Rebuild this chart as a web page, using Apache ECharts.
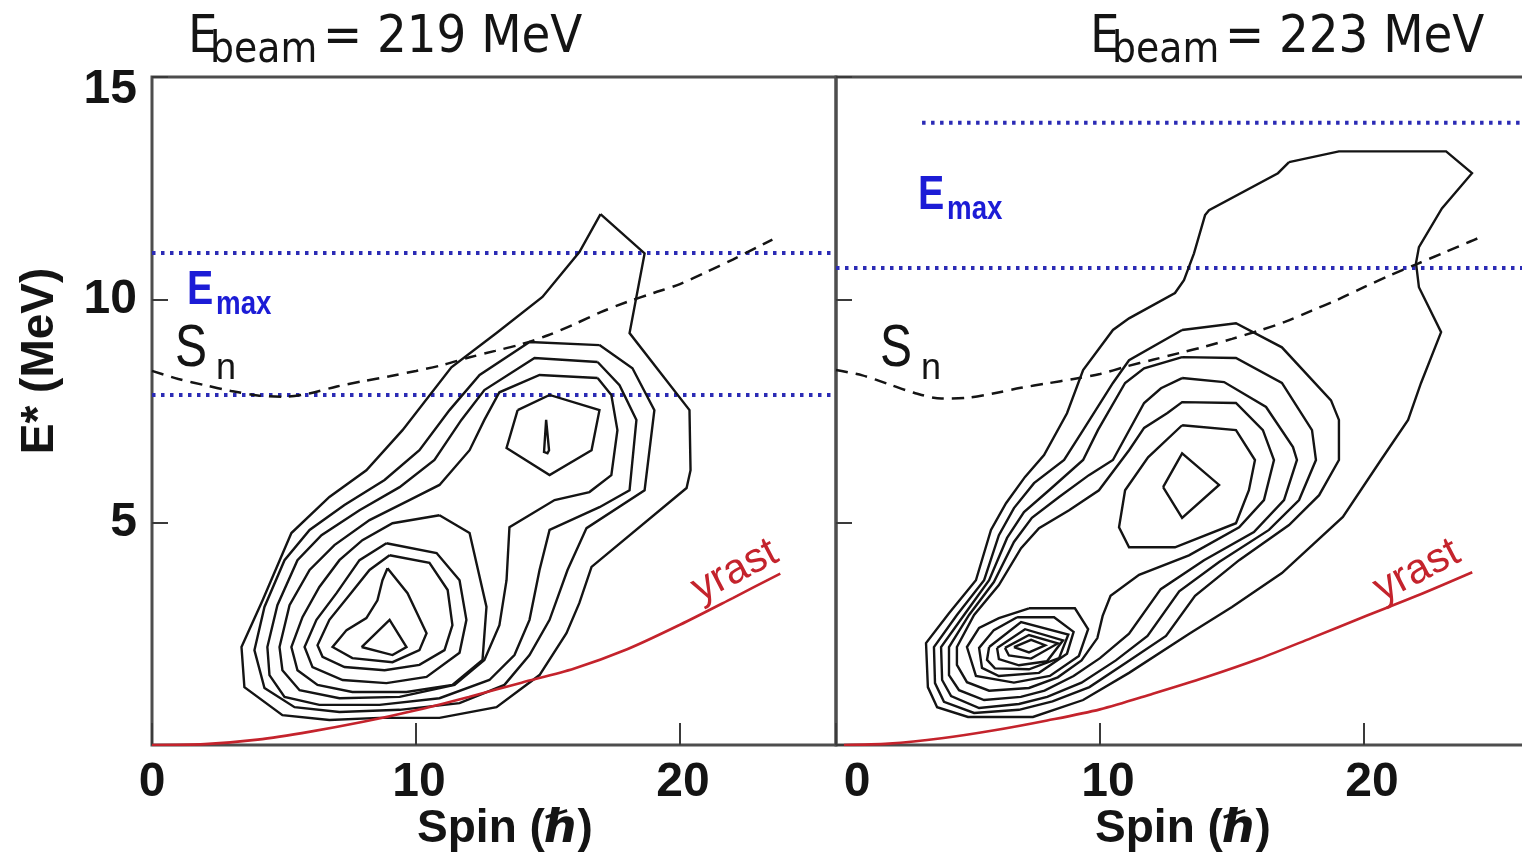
<!DOCTYPE html>
<html>
<head>
<meta charset="utf-8">
<script src="https://cdn.jsdelivr.net/npm/echarts@6/dist/echarts.min.js"></script>
<style>
  html, body { margin: 0; padding: 0; background: #ffffff; }
  #chart { width: 1522px; height: 853px; }
</style>
</head>
<body>
<div id="chart"></div>
<script>
// ---------------- data ----------------
const spinTicks = [0, 10, 20];
const energyTicks = [0, 5, 10, 15];
const beamLabels = ['219', '223'];

// axis ranges (spin in hbar, excitation energy in MeV)
const spinRange219 = [0, 25.91];
const spinRange223 = [0, 26.06];
const energyRange = [0, 15];

// yrast lines
const yrast219 = [[0,0],[2,0.02],[4,0.12],[6,0.3],[8,0.52],[10,0.78],[12,1.08],[14,1.4],[16,1.72],[18,2.15],[20,2.7],[22,3.3],[23.8,3.85]];
const yrast223 = [[0.3,0],[2,0.03],[4,0.15],[6,0.33],[8,0.55],[10,0.8],[12,1.15],[14,1.52],[16,1.93],[18,2.4],[20,2.88],[22,3.35],[24.1,3.88]];

// neutron separation energy S_n
const sn219 = [[0,8.4],[1,8.22],[2,8.08],[3,7.95],[4,7.85],[5,7.82],[6,7.9],[7,8.05],[8,8.17],[9,8.28],[10,8.4],[11,8.53],[12,8.7],[13,8.85],[14,9.0],[15,9.2],[16,9.45],[17,9.72],[18,9.95],[19,10.15],[20,10.35],[21,10.62],[22,10.9],[23,11.2],[23.5,11.35]];
const sn223 = [[0,8.42],[1,8.3],[2,8.1],[3,7.9],[4,7.78],[5,7.8],[6,7.9],[7,8.02],[8,8.12],[9,8.22],[10,8.33],[11,8.5],[12,8.65],[13,8.8],[14,8.95],[15,9.12],[16,9.3],[17,9.5],[18,9.75],[19,10.0],[20,10.28],[21,10.55],[22,10.8],[23,11.05],[24,11.3],[24.4,11.4]];

// E_max levels and where each dotted line begins (spin)
const emaxLevels219 = [11.05, 7.86];
const emaxStart219 = [0, 0];
const emaxLevels223 = [13.97, 10.71];
const emaxStart223 = [3.26, 0];

// contour lines, E_beam = 219 MeV
const c219_1 = [[16.99,11.92],[18.66,11.04],[18.09,9.25],[20.36,7.52],[20.40,6.17],[20.25,5.77],[16.65,4.00],[16.19,3.19],[15.70,2.51],[14.68,1.57],[13.05,0.85],[10.89,0.61],[8.62,0.61],[6.72,0.56],[4.94,0.67],[3.50,1.30],[3.39,2.20],[4.19,3.25],[5.28,4.76],[6.72,5.57],[8.12,6.17],[9.49,7.07],[11.34,8.48],[13.05,9.25],[14.79,10.06],[16.19,11.07],[16.99,11.92]];
const c219_2 = [[16.95,8.98],[18.20,8.46],[19.03,7.52],[18.66,5.72],[16.46,4.87],[15.74,3.93],[15.06,2.81],[14.30,2.02],[13.35,1.35],[11.65,0.94],[9.38,0.79],[7.10,0.74],[5.40,0.85],[4.26,1.28],[3.88,2.13],[4.26,3.10],[5.02,4.15],[5.97,4.83],[7.29,5.39],[8.81,5.95],[10.13,6.62],[11.27,7.52],[12.41,8.31],[14.30,9.05],[16.95,8.98]];
const c219_3 = [[16.88,8.60],[17.71,8.08],[18.35,7.30],[18.09,5.72],[16.95,5.34],[15.06,4.83],[14.68,3.93],[14.30,2.81],[13.73,2.02],[12.78,1.46],[10.89,1.05],[8.62,0.90],[6.34,0.90],[5.02,1.08],[4.45,1.57],[4.37,2.20],[4.75,3.14],[5.51,4.15],[6.42,4.71],[7.86,5.27],[9.38,5.79],[10.70,6.40],[11.72,7.30],[12.59,7.97],[14.49,8.69],[16.88,8.60]];
const c219_4 = [[16.88,8.24],[17.40,7.86],[17.63,7.07],[17.40,6.06],[16.57,5.68],[15.25,5.50],[13.54,4.89],[13.43,3.70],[13.16,2.69],[12.59,1.91],[11.46,1.35],[9.38,1.08],[7.10,1.05],[5.59,1.23],[4.94,1.68],[4.83,2.20],[5.21,3.14],[5.97,3.93],[6.91,4.49],[8.24,5.05],[9.75,5.50],[10.89,5.84],[12.03,6.62],[12.59,7.30],[13.16,7.92],[14.68,8.31],[16.88,8.24]];
const c219_5a = [[13.85,7.52],[15.06,7.86],[16.95,7.52],[16.65,6.62],[15.06,6.06],[13.43,6.67],[13.85,7.52]];
const c219_5b = [[10.89,5.16],[12.03,4.76],[12.67,3.10],[12.52,1.91],[11.38,1.35],[9.64,1.19],[7.59,1.19],[6.27,1.35],[5.51,1.68],[5.28,2.20],[5.70,2.87],[6.34,3.55],[7.10,4.15],[7.97,4.60],[9.11,4.98],[10.89,5.16]];
const c219_6a = [[14.93,7.30],[15.04,6.62],[14.98,6.55],[14.85,6.58],[14.93,7.30]];
const c219_6b = [[8.88,4.53],[10.78,4.31],[11.65,3.70],[11.91,2.81],[11.65,2.07],[10.40,1.53],[8.88,1.39],[7.22,1.46],[6.08,1.75],[5.78,2.20],[6.23,2.81],[6.99,3.41],[7.86,4.15],[8.88,4.53]];
const c219_7 = [[9.0,4.26],[10.51,4.09],[11.2,3.48],[11.38,2.69],[11.08,2.13],[10.13,1.80],[8.81,1.68],[7.29,1.75],[6.46,1.98],[6.27,2.24],[6.72,2.81],[7.48,3.37],[8.24,3.93],[9.0,4.26]];
const c219_8 = [[8.92,3.97],[9.68,3.41],[10.40,2.51],[10.13,2.13],[9.11,1.86],[7.59,1.95],[6.84,2.20],[7.37,2.58],[8.12,2.85],[8.54,3.25],[8.73,3.70],[8.92,3.97]];
const c219_9 = [[7.94,2.20],[9.0,2.81],[9.64,2.20],[9.11,2.02],[7.94,2.20]];

// contour lines, E_beam = 223 MeV
const c223_1 = [[17.16,13.09],[19.05,13.33],[23.11,13.33],[24.09,12.84],[22.95,12.05],[22.08,11.18],[21.97,10.82],[22.08,10.28],[22.92,9.27],[22.16,8.13],[21.67,7.30],[20.64,6.40],[19.20,5.12],[16.89,3.86],[15.0,3.10],[13.41,2.51],[11.10,1.62],[9.36,1.01],[7.46,0.63],[5.0,0.63],[3.83,0.85],[3.48,1.30],[3.41,2.29],[4.28,2.96],[5.30,3.70],[5.87,4.83],[6.44,5.43],[7.16,6.02],[7.88,6.51],[8.75,7.45],[9.36,8.42],[10.49,9.32],[11.10,9.58],[12.84,10.15],[13.18,10.44],[13.56,11.04],[13.98,11.90],[14.13,12.01],[16.74,12.84],[17.16,13.09]];
const c223_2 = [[13.11,9.32],[15.15,9.47],[16.89,8.93],[18.75,7.74],[19.05,7.30],[19.05,6.40],[18.30,5.61],[17.16,4.94],[15.27,4.15],[13.6,3.35],[12.5,2.45],[11.0,1.85],[9.6,1.3],[8.2,0.98],[6.93,0.79],[5.23,0.72],[4.09,0.97],[3.75,1.39],[3.71,2.20],[4.58,2.92],[5.61,3.70],[6.17,4.71],[6.74,5.32],[7.50,5.88],[8.64,6.40],[9.36,7.07],[10.49,8.13],[11.10,8.64],[13.11,9.32]];
const c223_3 = [[13.11,8.71],[15.15,8.69],[16.89,8.13],[18.03,7.07],[18.18,6.40],[17.54,5.50],[16.40,4.83],[14.51,4.11],[13.0,3.45],[11.8,2.45],[10.6,1.9],[9.3,1.4],[8.0,1.08],[6.93,0.92],[5.42,0.83],[4.36,1.10],[4.02,1.46],[3.98,2.20],[4.85,2.92],[5.80,3.70],[6.48,4.65],[7.12,5.23],[8.07,5.72],[9.36,6.40],[9.92,7.07],[10.95,8.13],[11.67,8.46],[13.11,8.71]];
const c223_4 = [[13.11,8.24],[14.70,8.15],[16.29,7.59],[17.31,6.69],[17.46,6.40],[16.97,5.50],[15.83,4.78],[13.94,4.15],[12.3,3.5],[11.1,2.5],[10.0,1.95],[9.0,1.55],[7.9,1.22],[7.0,1.08],[5.61,1.01],[4.66,1.23],[4.28,1.57],[4.28,2.20],[5.04,2.92],[5.98,3.66],[6.74,4.56],[7.42,5.10],[8.45,5.57],[9.58,6.06],[10.49,6.40],[11.67,7.68],[12.31,8.01],[13.11,8.24]];
const c223_5 = [[12.54,7.45],[13.11,7.70],[15.15,7.68],[16.17,7.07],[16.59,6.40],[16.21,5.50],[15.27,4.89],[13.37,4.26],[11.48,3.82],[10.4,3.35],[10.1,2.9],[9.9,2.4],[9.3,1.9],[8.4,1.52],[7.31,1.28],[5.80,1.22],[4.96,1.41],[4.58,1.80],[4.58,2.20],[5.23,2.92],[6.17,3.59],[7.01,4.42],[7.69,4.87],[8.83,5.27],[9.96,5.72],[11.10,6.62],[11.67,7.12],[12.54,7.45]];
const c223_6a = [[13.11,7.18],[15.15,7.07],[15.87,6.40],[15.64,5.72],[15.15,4.98],[12.84,4.44],[11.10,4.44],[10.72,4.89],[10.95,5.72],[11.82,6.46],[13.11,7.18]];
const c223_6b = [[7.31,3.07],[9.05,3.07],[9.55,2.6],[9.2,2.0],[8.1,1.55],[6.74,1.4],[5.30,1.55],[4.96,2.20],[5.42,2.63],[6.17,2.85],[7.31,3.07]];
const c223_7a = [[12.39,5.79],[13.11,6.55],[14.51,5.84],[13.11,5.10],[12.39,5.79]];
const c223_7b = [[6.86,2.87],[8.26,2.87],[9.0,2.54],[8.75,2.05],[7.69,1.62],[6.17,1.55],[5.53,1.73],[5.42,2.18],[5.98,2.58],[6.86,2.87]];
const c223_8 = [[5.80,2.20],[7.01,2.76],[8.80,2.48],[8.45,1.95],[7.31,1.70],[6.02,1.72],[5.72,1.91],[5.80,2.20]];
const c223_9 = [[6.10,2.18],[7.16,2.60],[8.60,2.35],[7.99,1.88],[6.93,1.79],[6.17,1.93],[6.10,2.18]];
const c223_10 = [[6.40,2.18],[7.31,2.47],[8.40,2.28],[7.39,1.94],[6.55,2.01],[6.40,2.18]];
const c223_11 = [[6.74,2.20],[7.39,2.36],[7.92,2.24],[7.31,2.08],[6.74,2.20]];

const contours219 = [c219_1, c219_2, c219_3, c219_4, c219_5a, c219_5b, c219_6a, c219_6b, c219_7, c219_8, c219_9];
const contours223 = [c223_1, c223_2, c223_3, c223_4, c223_5, c223_6a, c223_6b, c223_7a, c223_7b, c223_8, c223_9, c223_10, c223_11];

// ---------------- chart ----------------
const chart = echarts.init(document.getElementById('chart'), null, { renderer: 'canvas' });

const SANS = '"Liberation Sans", Arial, "DejaVu Sans", sans-serif';
const COND = '"DejaVu Sans Condensed", "DejaVu Sans", sans-serif';
const INK = '#141414';
const FRAME = '#4d4d4d';
const BLUE_DOT = '#2b2bb5';
const BLUE_TXT = '#1c1cd6';
const RED = '#c4232c';

function contourSeries(list, idx) {
  return list.map(function (d) {
    return {
      type: 'line', xAxisIndex: idx, yAxisIndex: idx, data: d,
      symbol: 'none', silent: true, z: 4,
      lineStyle: { color: INK, width: 2.4, join: 'miter' }
    };
  });
}

function emaxSeries(levels, starts, range, idx) {
  return levels.map(function (lv, i) {
    return {
      type: 'line', xAxisIndex: idx, yAxisIndex: idx,
      data: [[starts[i], lv], [range[1], lv]],
      symbol: 'none', silent: true, z: 3,
      lineStyle: { color: BLUE_DOT, width: 4, type: [3.5, 5.5] }
    };
  });
}

function curve(data, idx, style) {
  return {
    type: 'line', xAxisIndex: idx, yAxisIndex: idx, data: data,
    symbol: 'none', silent: true, smooth: 0.3, z: 5, lineStyle: style
  };
}

const tickLabelStyle = { fontFamily: SANS, fontWeight: 'bold', fontSize: 48, color: INK };

function xAxisFor(idx, range, shiftZero, shiftOthers) {
  return {
    gridIndex: idx, type: 'value', min: range[0], max: range[1], interval: 10,
    axisLine: { show: false },
    splitLine: { show: false },
    axisTick: { show: true, inside: true, length: 22, lineStyle: { color: '#3a3a3a', width: 2 } },
    axisLabel: {
      show: true, margin: 14, showMaxLabel: false,
      formatter: function (v) {
        if (spinTicks.indexOf(v) < 0) return '';
        return (v === 0 ? '{z|' : '{a|') + v + '}';
      },
      rich: {
        z: Object.assign({ padding: [0, 0, 0, shiftZero * 2] }, tickLabelStyle),
        a: Object.assign({ padding: [0, 0, 0, shiftOthers * 2] }, tickLabelStyle)
      }
    },
    name: '{n|Spin (\u210F)}',
    nameLocation: 'middle', nameGap: 61, nameMoveOverlap: false,
    nameTextStyle: {
      rich: { n: { fontFamily: SANS, fontWeight: 'bold', fontSize: 46, color: INK,
                   padding: [0, 0, 0, idx === 0 ? 22 : 6] } }
    }
  };
}

function yAxisFor(idx, withLabels) {
  return {
    gridIndex: idx, type: 'value', min: energyRange[0], max: energyRange[1], interval: 5,
    axisLine: { show: false },
    splitLine: { show: false },
    axisTick: { show: true, inside: true, length: 16, lineStyle: { color: '#3a3a3a', width: 2 } },
    axisLabel: {
      show: withLabels, margin: 15,
      formatter: function (v) {
        if (v === 0 || energyTicks.indexOf(v) < 0) return '';
        return v === 15 ? '{t|15}' : '{a|' + v + '}';
      },
      rich: {
        t: Object.assign({ padding: [26, 0, 0, 0] }, tickLabelStyle),
        a: Object.assign({}, tickLabelStyle)
      }
    }
  };
}

// text helpers for titles and annotations
function txt(text, x, y, font, fill, extra) {
  return Object.assign({
    type: 'text', x: x, y: y, silent: true, z: 10,
    style: { text: text, font: font, fill: fill, align: 'left', verticalAlign: 'middle' }
  }, extra || {});
}

const graphics = [];
// panel titles
[[188, beamLabels[0]], [1090, beamLabels[1]]].forEach(function (p) {
  const x0 = p[0];
  graphics.push(txt('E', x0, 38, 'normal 52px ' + COND, INK));
  graphics.push(txt('beam', x0 + 22, 51, 'normal 42px ' + COND, INK));
  graphics.push(txt('= ' + p[1] + ' MeV', x0 + 135, 38, 'normal 52px ' + COND, INK));
});
// E_max labels (narrow bold face)
[[187, 291], [918, 196]].forEach(function (p) {
  graphics.push(txt('E', p[0], p[1], 'bold 48px ' + SANS, BLUE_TXT, { scaleX: 0.82, originX: 0, originY: 0 }));
  graphics.push(txt('max', p[0] + 29, p[1] + 14, 'bold 33px ' + SANS, BLUE_TXT, { scaleX: 0.84, originX: 0, originY: 0 }));
});
// S_n labels
[[175, 349], [880, 349]].forEach(function (p) {
  graphics.push(txt('S', p[0], p[1], 'normal 60px ' + SANS, INK, { scaleX: 0.8, originX: 0, originY: 0 }));
  graphics.push(txt('n', p[0] + 41, p[1] + 20, 'normal 36px ' + SANS, INK));
});
// yrast labels
[[735, 571], [1417, 571]].forEach(function (p) {
  graphics.push({
    type: 'text', x: p[0], y: p[1], rotation: 0.48, silent: true, z: 10,
    style: { text: 'yrast', font: 'normal 42px ' + SANS, fill: RED, align: 'center', verticalAlign: 'middle' }
  });
});
// vertical axis title
graphics.push({
  type: 'text', x: 40, y: 361, rotation: Math.PI / 2, silent: true, z: 10,
  style: { text: 'E* (MeV)', font: 'bold 46px ' + SANS, fill: INK, align: 'center', verticalAlign: 'middle' }
});

const series = []
  .concat(emaxSeries(emaxLevels219, emaxStart219, spinRange219, 0))
  .concat(emaxSeries(emaxLevels223, emaxStart223, spinRange223, 1))
  .concat([
    curve(sn219, 0, { color: INK, width: 2.5, type: [12, 8] }),
    curve(sn223, 1, { color: INK, width: 2.5, type: [12, 8] }),
    curve(yrast219, 0, { color: RED, width: 2.6 }),
    curve(yrast223, 1, { color: RED, width: 2.6 })
  ])
  .concat(contourSeries(contours219, 0))
  .concat(contourSeries(contours223, 1));

chart.setOption({
  animation: false,
  backgroundColor: '#ffffff',
  grid: [
    { left: 152, top: 77, width: 684, height: 668, show: true, borderColor: FRAME, borderWidth: 3,
      backgroundColor: 'transparent', containLabel: false, outerBoundsMode: 'none' },
    { left: 836, top: 77, width: 688, height: 668, show: true, borderColor: FRAME, borderWidth: 3,
      backgroundColor: 'transparent', containLabel: false, outerBoundsMode: 'none' }
  ],
  xAxis: [xAxisFor(0, spinRange219, 0, 3), xAxisFor(1, spinRange223, 21, 8)],
  yAxis: [yAxisFor(0, true), yAxisFor(1, false)],
  series: series,
  graphic: graphics
});
</script>
</body>
</html>
